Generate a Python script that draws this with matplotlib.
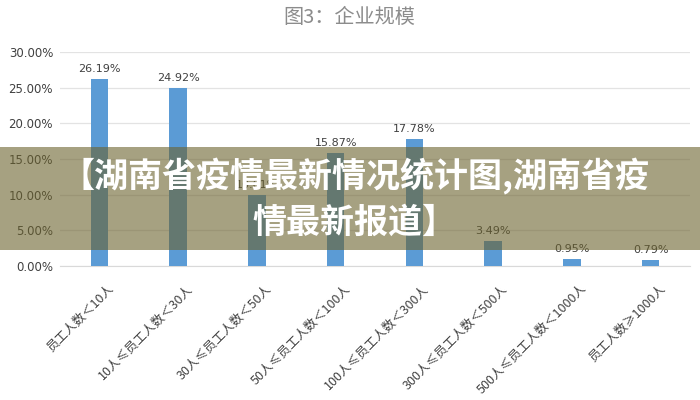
import matplotlib
matplotlib.use('Agg')
import matplotlib.pyplot as plt
import matplotlib.transforms as mtransforms
from matplotlib.patches import Rectangle

plt.rcParams['font.family'] = ['Noto Sans CJK SC', 'DejaVu Sans']

categories = ['员工人数＜10人', '10人≤员工人数＜30人', '30人≤员工人数＜50人',
              '50人≤员工人数＜100人', '100人≤员工人数＜300人',
              '300人≤员工人数＜500人', '500人≤员工人数＜1000人', '员工人数≥1000人']
values = [26.19, 24.92, 10.01, 15.87, 17.78, 3.49, 0.95, 0.79]
yticks = [0, 5, 10, 15, 20, 25, 30]

title = '图3：企业规模'
banner = '【湖南省疫情最新情况统计图,湖南省疫\n情最新报道】'

fig = plt.figure(figsize=(7, 4), dpi=100)
ax = fig.add_axes([60/700, 1-266/400, 630/700, 214/400])

x = range(len(categories))
ax.bar(x, values, width=0.22, color='#5B9BD5', zorder=3)
for xi, v in zip(x, values):
    ax.text(xi, v + 0.7, '%.2f%%' % v, ha='center', va='bottom',
            fontsize=8, color='#404040', family=['DejaVu Sans'])

ax.set_xlim(-0.5, len(categories) - 0.5)
ax.set_ylim(0, 30)
ax.set_yticks(yticks)
ax.set_yticklabels(['%.2f%%' % t for t in yticks], family=['DejaVu Sans'],
                   fontsize=8.5, color='#404040')
ax.yaxis.grid(True, color='#E3E3E3', lw=0.9, zorder=0)
for s in ['top', 'right', 'left']:
    ax.spines[s].set_visible(False)
ax.spines['bottom'].set_color('#D9D9D9')
ax.tick_params(axis='both', length=0)
ax.tick_params(axis='y', pad=5)

ax.set_xticks(list(x))
ax.set_xticklabels(categories, rotation=45, ha='right', va='center',
                   rotation_mode='anchor', fontsize=9, color='#404040')
offset = mtransforms.ScaledTranslation(13/100, -16/100, fig.dpi_scale_trans)
for lbl in ax.get_xticklabels():
    lbl.set_transform(lbl.get_transform() + offset)

fig.text(0.499, 1 - 17/400, title, ha='center', va='center', fontsize=14.5,
         color='#8C8C8C', fontweight='light')

# overlay band across the picture
fig.patches.append(Rectangle((0, 1 - 250/400), 1, 103/400,
                             transform=fig.transFigure, facecolor=(107/255, 98/255, 45/255),
                             alpha=0.6, edgecolor='none', zorder=5))
fig.text(0.507, 1 - 199/400, banner, ha='center', va='center', fontsize=24.5,
         color='white', fontweight='heavy', linespacing=1.35, zorder=6)

fig.savefig('out.png', dpi=100)
